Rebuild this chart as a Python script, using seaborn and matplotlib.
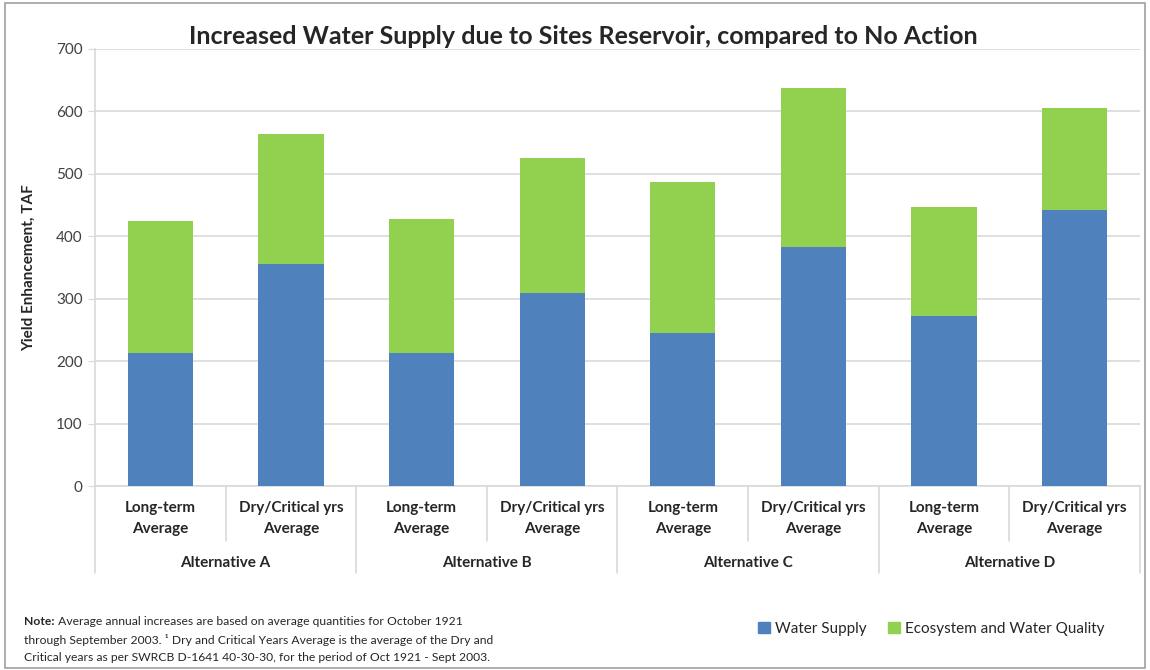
import matplotlib
matplotlib.use("Agg")
import matplotlib.pyplot as plt
import seaborn as sns
import pandas as pd
from matplotlib.patches import Patch
from matplotlib.transforms import offset_copy

# Datos (TAF)
alternatives = ["Alternative A", "Alternative B", "Alternative C", "Alternative D"]
periods = ["Long-term\nAverage", "Dry/Critical yrs\nAverage"]
water_supply = [213, 356, 213, 309, 245, 383, 272, 442]
ecosystem = [212, 208, 215, 216, 242, 255, 175, 164]
yticks = [0, 100, 200, 300, 400, 500, 600, 700]

BLUE = "#4F81BD"
GREEN = "#92D050"
GRID = "#D9D9D9"

keys = [f"{a}|{p}" for a in alternatives for p in periods]
df = pd.DataFrame({
    "key": keys,
    "water": water_supply,
    "total": [w + e for w, e in zip(water_supply, ecosystem)],
})

sns.set_style("white")
plt.rcParams["font.family"] = ["Lato", "DejaVu Sans"]

fig = plt.figure(figsize=(11.5, 6.7), dpi=100)
ax = fig.add_axes([0.0826, 0.2746, 0.9087, 0.6523])

# barra total en verde, luego la parte azul encima
sns.barplot(data=df, x="key", y="total", order=keys, color=GREEN,
            width=0.5, saturation=1, ax=ax, zorder=3, linewidth=0, edgecolor="none")
sns.barplot(data=df, x="key", y="water", order=keys, color=BLUE,
            width=0.5, saturation=1, ax=ax, zorder=4, linewidth=0, edgecolor="none")

ax.set_xlim(-0.5, len(keys) - 0.5)
ax.set_ylim(0, 700)
ax.set_yticks(yticks)
ax.set_yticklabels([str(t) for t in yticks], fontsize=11, color="#404040")
ax.yaxis.grid(True, color=GRID, linewidth=1.2, zorder=0)
ax.set_axisbelow(True)
ax.tick_params(axis="y", length=5, color=GRID, pad=4, left=True)
ax.set_xticks([])
ax.set_xlabel("")
ax.set_ylabel("Yield Enhancement, TAF", fontsize=11, fontweight="bold", labelpad=14)
for s in ["top", "right"]:
    ax.spines[s].set_visible(False)
for s in ["left", "bottom"]:
    ax.spines[s].set_color(GRID)
    ax.spines[s].set_linewidth(1.2)

tr = ax.get_xaxis_transform()
# etiquetas de primer nivel
for i, k in enumerate(keys):
    ax.text(i, -0.035, k.split("|")[1], transform=tr, ha="center", va="top",
            fontsize=11, fontweight="bold", color="#262626", linespacing=1.6)
# etiquetas de grupo
for g, a in enumerate(alternatives):
    ax.text(2 * g + 0.5, -0.175, a, transform=tr, ha="center", va="center",
            fontsize=11, fontweight="bold", color="#262626")
# separadores
for g in range(len(alternatives) + 1):
    ax.plot([2 * g - 0.5] * 2, [0, -0.2], transform=tr, color=GRID,
            linewidth=1.2, clip_on=False)
for g in range(len(alternatives)):
    ax.plot([2 * g + 0.5] * 2, [0, -0.125], transform=tr, color=GRID,
            linewidth=1.2, clip_on=False)

fig.text(0.507, 0.946, "Increased Water Supply due to Sites Reservoir, compared to No Action",
         ha="center", va="center", fontsize=18, fontweight="bold")

handles = [Patch(color=BLUE, label="Water Supply"),
           Patch(color=GREEN, label="Ecosystem and Water Quality")]
fig.legend(handles=handles, loc="center", bbox_to_anchor=(0.81, 0.061), ncol=2,
           frameon=False, fontsize=11, handlelength=0.75, handleheight=0.75,
           handletextpad=0.35, columnspacing=1.4)

# nota al pie
note_lines = [
    " Average annual increases are based on average quantities for October 1921",
    "through September 2003. \u00b9 Dry and Critical Years Average is the average of the Dry and",
    "Critical years as per SWRCB D-1641 40-30-30, for the period of Oct 1921 - Sept 2003.",
]
note_y = [0.072, 0.045, 0.019]
t0 = fig.text(0.021, note_y[0], "Note:", ha="left", va="center", fontsize=8.7,
              fontweight="bold", color="#262626")
fig.canvas.draw()
w = t0.get_window_extent().width
fig.text(0.021, note_y[0], note_lines[0], ha="left", va="center", fontsize=8.7,
         color="#262626", transform=offset_copy(fig.transFigure, fig=fig, x=w, y=0, units="dots"))
for ln, yy in zip(note_lines[1:], note_y[1:]):
    fig.text(0.021, yy, ln, ha="left", va="center", fontsize=8.7, color="#262626")

# marco exterior
fig.patches.append(plt.Rectangle((0.004, 0.003), 0.992, 0.992, transform=fig.transFigure,
                                 fill=False, edgecolor="#A0A0A0", linewidth=1.2))

fig.savefig("out.png", dpi=100)
